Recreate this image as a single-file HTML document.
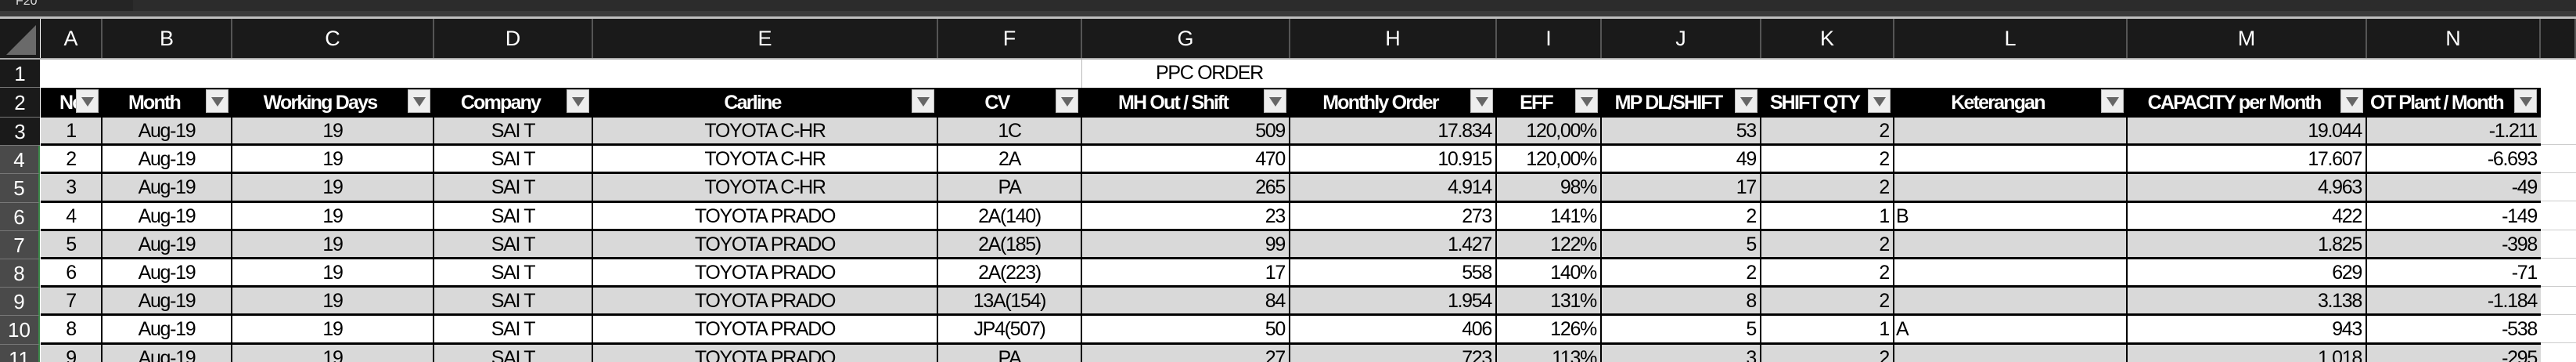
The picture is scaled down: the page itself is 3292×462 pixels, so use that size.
<!DOCTYPE html>
<html><head><meta charset="utf-8">
<style>
body{margin:0;width:3292px;height:462px;overflow:hidden;background:#fff;font-family:"Liberation Sans",sans-serif;}
#root{position:relative;width:3292px;height:462px;overflow:hidden;}
.a{position:absolute;box-sizing:border-box;}
.cell{position:absolute;box-sizing:border-box;font-size:25px;line-height:35px;white-space:nowrap;overflow:hidden;color:#000;padding:0 5px;letter-spacing:-1.3px;}
.colh{position:absolute;box-sizing:border-box;background:#1a1a1a;color:#fff;font-size:27px;line-height:50px;text-align:center;border-right:2px solid #555;}
.rowh{position:absolute;box-sizing:border-box;color:#fff;font-size:26px;text-align:center;width:51px;left:0;}
.hd{position:absolute;box-sizing:border-box;background:#000;color:#fff;font-weight:bold;font-size:25px;line-height:38px;text-align:center;white-space:nowrap;overflow:hidden;letter-spacing:-1.8px;}
.flt{position:absolute;width:29px;height:30px;background:#eee;border:1px solid #bbb;box-sizing:border-box;}
.flt:after{content:"";position:absolute;left:6px;top:9px;border-left:8px solid transparent;border-right:8px solid transparent;border-top:12px solid #666;}
</style></head><body>
<div id="root">
<div class="a" style="left:0;top:0;width:3292px;height:14px;background:#2c2c2c;"></div>
<div class="a" style="left:0;top:0;width:170px;height:14px;background:#252525;color:#ddd;font-size:16px;line-height:4px;padding-left:20px;">F20</div>
<div class="a" style="left:0;top:14px;width:3292px;height:10px;background:#3a3a3a;border-top:4px solid #3a3a3a;border-bottom:3px solid #bdbdbd;"></div>
<div class="a" style="left:0;top:24px;width:51px;height:50px;background:#1a1a1a;"></div>
<div class="a" style="left:8px;top:32px;width:0;height:0;border-left:38px solid transparent;border-bottom:38px solid #6a6a6a;"></div>
<div class="a" style="left:0;top:74px;width:3292px;height:2px;background:#aaa;"></div>
</div>
<script>
const colLetters=["A","B","C","D","E","F","G","H","I","J","K","L","M","N"];
const colEdges=[52,131,297,555,758,1199,1383,1649,1913,2047,2251,2421,2719,3025,3247];
const headers=["No","Month","Working Days","Company","Carline","CV","MH Out / Shift","Monthly Order","EFF","MP DL/SHIFT","SHIFT QTY","Keterangan","CAPACITY per Month","OT Plant / Month"];
const aligns=["center","center","center","center","center","center","right","right","right","right","right","left","right","right"];
const rowsNo=["1","2","3","4","5","6","7","8","9"];
const rowsCarline=["TOYOTA C-HR","TOYOTA C-HR","TOYOTA C-HR","TOYOTA PRADO","TOYOTA PRADO","TOYOTA PRADO","TOYOTA PRADO","TOYOTA PRADO","TOYOTA PRADO"];
const rowsCV=["1C","2A","PA","2A(140)","2A(185)","2A(223)","13A(154)","JP4(507)","PA"];
const rowsMH=["509","470","265","23","99","17","84","50","27"];
const rowsOrder=["17.834","10.915","4.914","273","1.427","558","1.954","406","723"];
const rowsEff=["120,00%","120,00%","98%","141%","122%","140%","131%","126%","113%"];
const rowsMP=["53","49","17","2","5","2","8","5","3"];
const rowsShift=["2","2","2","1","2","2","2","1","2"];
const rowsKet=["","","","B","","","","A",""];
const rowsCap=["19.044","17.607","4.963","422","1.825","629","3.138","943","1.018"];
const rowsOT=["-1.211","-6.693","-49","-149","-398","-71","-1.184","-538","-295"];
const root=document.getElementById('root');
function mk(cls,x,y,w,h,txt){const d=document.createElement('div');d.className=cls;d.style.left=x+'px';d.style.top=y+'px';d.style.width=w+'px';d.style.height=h+'px';if(txt!==undefined)d.textContent=txt;root.appendChild(d);return d;}
colLetters.forEach((L,i)=>{const d=mk('colh',colEdges[i],24,colEdges[i+1]-colEdges[i],50,L);

});
const rest=mk('colh',3247,24,45,50,'');


const rowTop=n=>n===1?76:(n===2?112:150+(n-3)*36.2);
const rowH=n=>n===1?36:(n===2?38:36.2);
for(let n=1;n<=11;n++){const d=mk('rowh',0,rowTop(n),51,rowH(n),String(n));
d.style.lineHeight=rowH(n)+'px';d.style.background=n<=3?'#1a1a1a':'#4a4a4a';
if(n>=4)d.style.borderRight='2px solid #3c8a4a';
d.style.borderBottom='1px solid #777';

}
const t=mk('cell',1383,76,300,36,'PPC ORDER');
t.style.paddingLeft='94px';


const sep=mk('a',1382,76,1,36);sep.style.background='#bbb';


const hb=mk('a',52,112,3195,38);hb.style.background='#000';


headers.forEach((h,i)=>{const x=colEdges[i],w=colEdges[i+1]-colEdges[i];
const d=mk('hd',x,112,w-34,38,h);
if(i===0){d.style.width='44px';d.style.left=(x+24)+'px';d.style.textAlign='left';}
if(i===13){d.style.textAlign='left';d.style.paddingLeft='4px';}


const f=mk('flt',x+w-34,114,29,30);

});
for(let r=0;r<rowsNo.length;r++){const n=r+3,y=rowTop(n);
const vals=[rowsNo[r],"Aug-19","19","SAI T",rowsCarline[r],rowsCV[r],rowsMH[r],rowsOrder[r],rowsEff[r],rowsMP[r],rowsShift[r],rowsKet[r],rowsCap[r],rowsOT[r]];
const bg=(r%2===0)?'#d9d9d9':'#fff';
const rb=mk('a',52,y,3195,36.2);rb.style.background=bg;rb.style.borderBottom='3px solid #000';


vals.forEach((v,i)=>{const x=colEdges[i],w=colEdges[i+1]-colEdges[i];
const c=mk('cell',x,y,w,34,v);c.style.textAlign=aligns[i];
if(i<13)c.style.borderRight='2px solid #000';
if(i===11)c.style.paddingLeft='2px';

});
const g=mk('a',3247,y+34,45,1);g.style.background='#ccc';

}
</script>
</body></html>
